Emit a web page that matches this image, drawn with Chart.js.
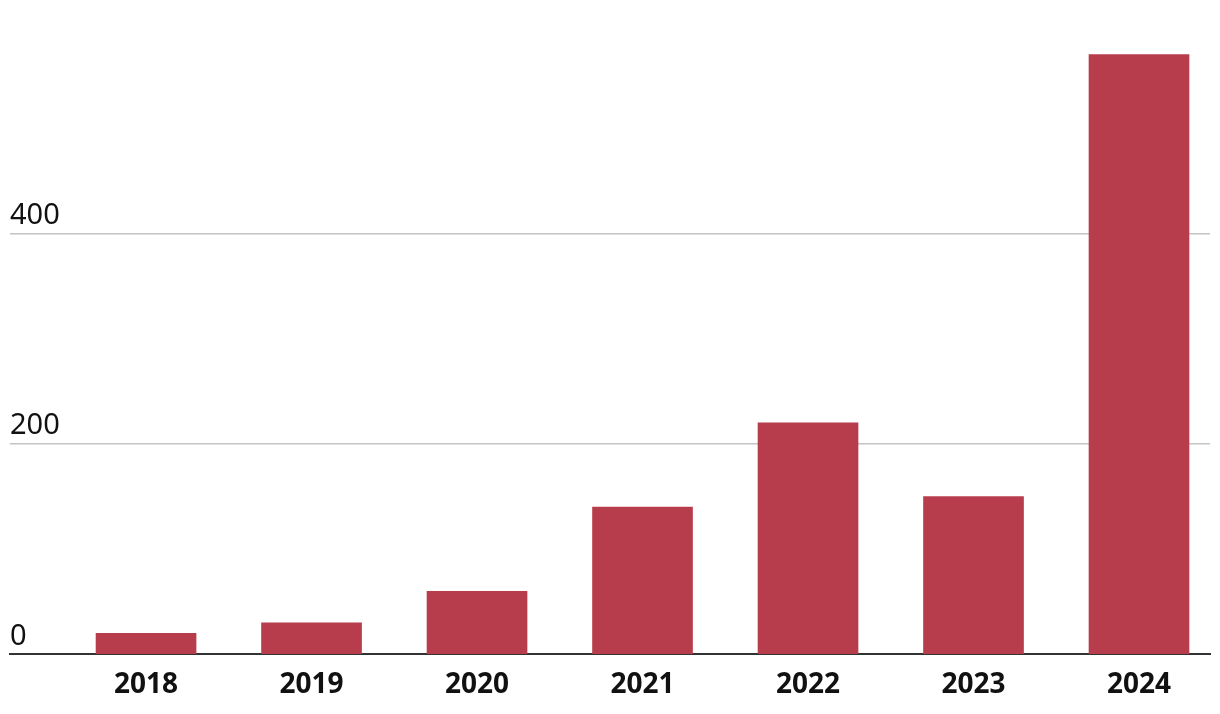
<!DOCTYPE html>
<html>
<head>
<meta charset="utf-8">
<script src="https://cdn.jsdelivr.net/npm/chart.js@4.4.1/dist/chart.umd.min.js"></script>
<style>
  html, body { margin: 0; padding: 0; background: #ffffff; }
  #wrap { width: 1220px; height: 714px; }
</style>
</head>
<body>
<div id="wrap"><canvas id="c" width="1220" height="714"></canvas></div>
<script>
// ---- data ----
const years = [2018, 2019, 2020, 2021, 2022, 2023, 2024];
const values = [20, 30, 60, 140, 220, 150, 570];
const yTickValues = [0, 200, 400];

const BAR_COLOR = '#b83d4c';

const ctx = document.getElementById('c').getContext('2d');
new Chart(ctx, {
  type: 'bar',
  data: {
    datasets: [{
      data: years.map((yr, i) => ({ x: yr, y: values[i] })),
      backgroundColor: BAR_COLOR,
      borderWidth: 0,
      barThickness: 100
    }]
  },
  options: {
    responsive: false,
    animation: false,
    layout: { padding: { left: 10, right: 10, top: 23, bottom: -2 } },
    plugins: { legend: { display: false }, tooltip: { enabled: false } },
    scales: {
      x: {
        type: 'linear',
        offset: false,
        min: 2017.178,
        max: 2024.429,
        z: 1,
        grid: { display: false, drawTicks: false, offset: false },
        border: { display: true, color: '#333333', width: 2 },
        afterBuildTicks: (scale) => { scale.ticks = years.map(v => ({ value: v })); },
        ticks: {
          autoSkip: false,
          maxRotation: 0,
          padding: 14,
          color: '#111111',
          font: { family: 'Noto Sans', size: 28, weight: 'bold' },
          callback: (v) => String(v)
        }
      },
      y: {
        type: 'linear',
        min: 0,
        max: 600,
        afterBuildTicks: (scale) => { scale.ticks = yTickValues.map(v => ({ value: v })); },
        grid: {
          drawTicks: false,
          color: (c) => (c.tick && c.tick.value === 0) ? 'rgba(0,0,0,0)' : '#c4c4c4',
          lineWidth: 1.5
        },
        border: { display: false },
        ticks: {
          mirror: true,
          padding: 0,
          labelOffset: -18,
          color: '#111111',
          font: { family: 'Noto Sans', size: 29, weight: 'normal' },
          callback: (v) => String(v)
        }
      }
    }
  }
});
</script>
</body>
</html>
